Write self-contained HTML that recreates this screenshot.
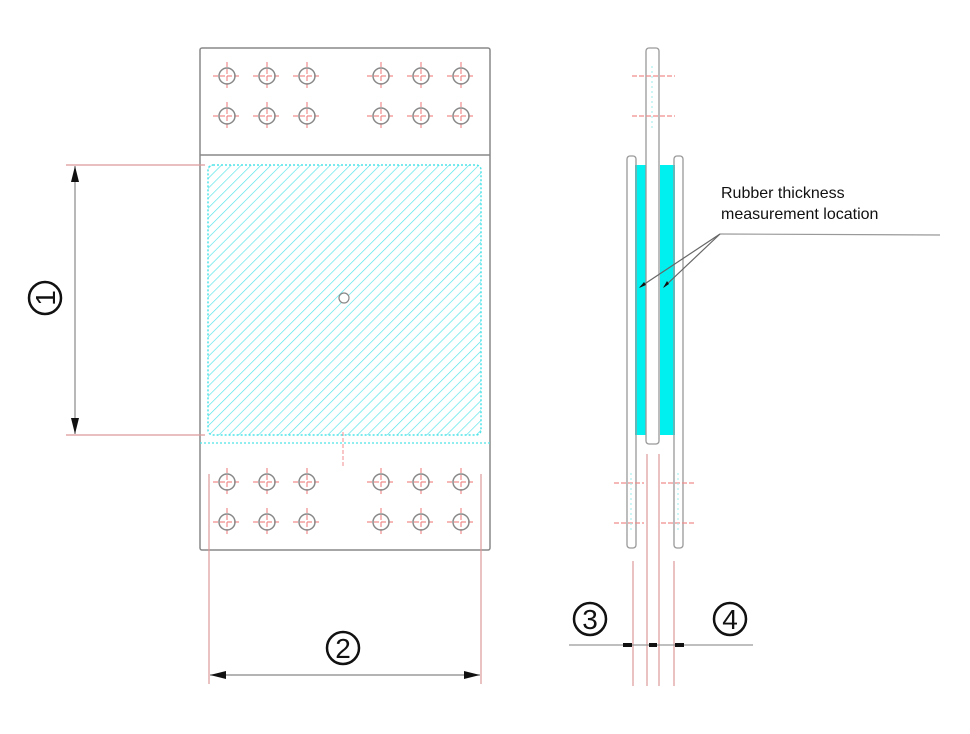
<!DOCTYPE html>
<html><head><meta charset="utf-8"><style>html,body{margin:0;padding:0;background:#fff}svg{display:block}</style></head><body>
<svg width="970" height="734" viewBox="0 0 970 734" xmlns="http://www.w3.org/2000/svg">
<defs>
<pattern id="h" width="7" height="7" patternUnits="userSpaceOnUse" patternTransform="rotate(45)">
<line x1="0" y1="0" x2="0" y2="7" stroke="#4fe3e8" stroke-width="1.3"/>
</pattern>
<g id="hole">
<line x1="-14" y1="0" x2="14" y2="0" stroke="#f08c8c" stroke-width="1.2" stroke-dasharray="5,2"/>
<line x1="0" y1="-14" x2="0" y2="14" stroke="#f08c8c" stroke-width="1.2" stroke-dasharray="5,2"/>
<circle r="8" fill="none" stroke="#888" stroke-width="1.5"/>
</g>
<marker id="a" markerWidth="16" markerHeight="8" refX="16" refY="4" orient="auto-start-reverse" markerUnits="userSpaceOnUse"><path d="M0,0 L16,4 L0,8 z" fill="#111"/></marker>
</defs>
<rect x="200" y="48" width="290" height="502" rx="2" fill="none" stroke="#888" stroke-width="1.5"/>
<line x1="200" y1="155" x2="490" y2="155" stroke="#888" stroke-width="1.5"/>
<rect x="208" y="165" width="273" height="270" rx="5" fill="url(#h)" stroke="#4fe3e8" stroke-width="1.5" stroke-dasharray="2,2"/>
<line x1="200" y1="443" x2="490" y2="443" stroke="#4fe3e8" stroke-width="1.2" stroke-dasharray="2,2"/>
<line x1="343" y1="432" x2="343" y2="466" stroke="#f08c8c" stroke-width="1" stroke-dasharray="4,2"/>
<circle cx="344" cy="298" r="5" fill="#fff" stroke="#888" stroke-width="1.2"/>
<g>
<use href="#hole" x="227" y="76"/><use href="#hole" x="267" y="76"/><use href="#hole" x="307" y="76"/>
<use href="#hole" x="381" y="76"/><use href="#hole" x="421" y="76"/><use href="#hole" x="461" y="76"/>
<use href="#hole" x="227" y="116"/><use href="#hole" x="267" y="116"/><use href="#hole" x="307" y="116"/>
<use href="#hole" x="381" y="116"/><use href="#hole" x="421" y="116"/><use href="#hole" x="461" y="116"/>
<use href="#hole" x="227" y="482"/><use href="#hole" x="267" y="482"/><use href="#hole" x="307" y="482"/>
<use href="#hole" x="381" y="482"/><use href="#hole" x="421" y="482"/><use href="#hole" x="461" y="482"/>
<use href="#hole" x="227" y="522"/><use href="#hole" x="267" y="522"/><use href="#hole" x="307" y="522"/>
<use href="#hole" x="381" y="522"/><use href="#hole" x="421" y="522"/><use href="#hole" x="461" y="522"/>
</g>
<line x1="66" y1="165" x2="205" y2="165" stroke="#d99" stroke-width="1.2"/>
<line x1="66" y1="435" x2="205" y2="435" stroke="#d99" stroke-width="1.2"/>
<line x1="75" y1="166" x2="75" y2="434" stroke="#888" stroke-width="1.2" marker-start="url(#a)" marker-end="url(#a)"/>
<g font-family="Liberation Sans, sans-serif" font-size="28" text-anchor="middle" fill="#111">
<g transform="translate(45,298) rotate(-90)"><circle r="16" fill="none" stroke="#111" stroke-width="2.5"/><text y="10">1</text></g>
<g transform="translate(343,648)"><circle r="16" fill="none" stroke="#111" stroke-width="2.5"/><text y="10">2</text></g>
<g transform="translate(590,619)"><circle r="16" fill="none" stroke="#111" stroke-width="2.5"/><text y="10">3</text></g>
<g transform="translate(730,619)"><circle r="16" fill="none" stroke="#111" stroke-width="2.5"/><text y="10">4</text></g>
</g>
<line x1="209" y1="474" x2="209" y2="684" stroke="#d99" stroke-width="1.2"/>
<line x1="481" y1="474" x2="481" y2="684" stroke="#d99" stroke-width="1.2"/>
<line x1="210" y1="675" x2="480" y2="675" stroke="#888" stroke-width="1.2" marker-start="url(#a)" marker-end="url(#a)"/>
<rect x="635" y="165" width="11" height="270" fill="#00f0f0"/>
<rect x="660" y="165" width="15" height="270" fill="#00f0f0"/>
<rect x="627" y="156" width="9" height="392" rx="3" fill="none" stroke="#999" stroke-width="1.3"/>
<rect x="674" y="156" width="9" height="392" rx="3" fill="none" stroke="#999" stroke-width="1.3"/>
<rect x="646" y="48" width="13" height="396" rx="3" fill="#fff" stroke="#999" stroke-width="1.3"/>
<g stroke="#f08c8c" stroke-width="1.2" stroke-dasharray="5,2">
<line x1="632" y1="76" x2="675" y2="76"/><line x1="632" y1="116" x2="675" y2="116"/>
<line x1="614" y1="483" x2="644" y2="483"/><line x1="661" y1="483" x2="694" y2="483"/>
<line x1="614" y1="523" x2="644" y2="523"/><line x1="661" y1="523" x2="694" y2="523"/>
</g>
<g stroke="#9ee" stroke-width="1" stroke-dasharray="2,3">
<line x1="652" y1="66" x2="652" y2="128"/>
<line x1="631" y1="473" x2="631" y2="533"/><line x1="678" y1="473" x2="678" y2="533"/>
</g>
<g stroke="#d99" stroke-width="1.2">
<line x1="647" y1="454" x2="647" y2="686"/><line x1="659" y1="454" x2="659" y2="686"/>
<line x1="633" y1="561" x2="633" y2="686"/><line x1="674" y1="561" x2="674" y2="686"/>
</g>
<line x1="569" y1="645" x2="753" y2="645" stroke="#999" stroke-width="1.2"/>
<g fill="#111"><rect x="623" y="643" width="9" height="4"/><rect x="649" y="643" width="8" height="4"/><rect x="675" y="643" width="9" height="4"/></g>
<line x1="720" y1="234" x2="940" y2="235" stroke="#999" stroke-width="1.2"/>
<line x1="720" y1="234" x2="640" y2="287" stroke="#666" stroke-width="1.2"/>
<line x1="720" y1="234" x2="664" y2="287" stroke="#666" stroke-width="1.2"/>
<path d="M639,288 l5,-6 l2,3 z M663,288 l4,-7 l2,3 z" fill="#111"/>
<text x="721" y="198" font-family="Liberation Sans, sans-serif" font-size="16" fill="#111">Rubber thickness</text>
<text x="721" y="219" font-family="Liberation Sans, sans-serif" font-size="16" fill="#111">measurement location</text>
</svg>
</body></html>
